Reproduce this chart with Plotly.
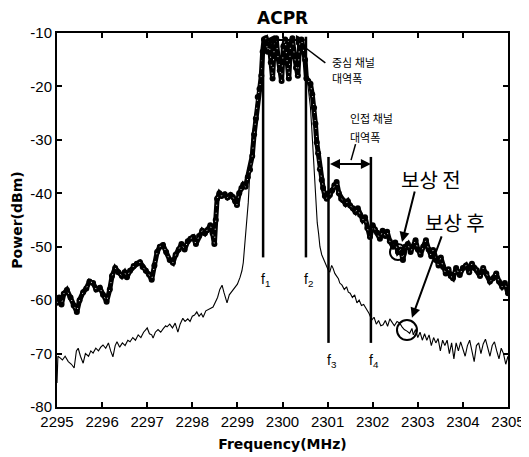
"""
ACPR spectrum: output power before and after compensation, with the
centre-channel (f1-f2) and adjacent-channel (f3-f4) bandwidth markers.
"""
import plotly.graph_objects as go

# before compensation (thick trace)
FREQ_BEFORE = [
    2295.00, 2295.05, 2295.10, 2295.15, 2295.22, 2295.30, 2295.37, 2295.44, 2295.50, 2295.58,
    2295.65, 2295.72, 2295.80, 2295.87, 2295.95, 2296.02, 2296.10, 2296.17, 2296.22, 2296.29,
    2296.36, 2296.44, 2296.50, 2296.55, 2296.62, 2296.70, 2296.77, 2296.84, 2296.90, 2296.97,
    2297.04, 2297.10, 2297.16, 2297.22, 2297.28, 2297.35, 2297.42, 2297.50, 2297.57, 2297.63,
    2297.70, 2297.76, 2297.83, 2297.90, 2297.96, 2298.02, 2298.08, 2298.15, 2298.22, 2298.28,
    2298.33, 2298.40, 2298.45, 2298.49, 2298.52, 2298.55, 2298.60, 2298.65, 2298.72, 2298.78,
    2298.85, 2298.90, 2298.95, 2298.99, 2299.04, 2299.09, 2299.13, 2299.18, 2299.23, 2299.28,
    2299.33, 2299.37, 2299.41, 2299.45, 2299.49, 2299.53, 2299.56, 2299.59, 2299.63, 2299.67,
    2299.70, 2299.74, 2299.78, 2299.82, 2299.86, 2299.90, 2299.94, 2299.98, 2300.02, 2300.06,
    2300.10, 2300.14, 2300.18, 2300.22, 2300.26, 2300.30, 2300.34, 2300.38, 2300.42, 2300.46,
    2300.50, 2300.53, 2300.57, 2300.62, 2300.66, 2300.70, 2300.73, 2300.76, 2300.79, 2300.83,
    2300.87, 2300.90, 2300.94, 2300.98, 2301.02, 2301.05, 2301.10, 2301.15, 2301.20, 2301.25,
    2301.30, 2301.34, 2301.40, 2301.45, 2301.50, 2301.56, 2301.62, 2301.67, 2301.72, 2301.78,
    2301.83, 2301.88, 2301.94, 2302.00, 2302.05, 2302.10, 2302.16, 2302.22, 2302.28, 2302.32,
    2302.38, 2302.45, 2302.50, 2302.56, 2302.62, 2302.67, 2302.72, 2302.78, 2302.84, 2302.89,
    2302.95, 2303.00, 2303.06, 2303.12, 2303.18, 2303.24, 2303.30, 2303.34, 2303.40, 2303.46,
    2303.51, 2303.56, 2303.62, 2303.68, 2303.73, 2303.78, 2303.85, 2303.93, 2304.00, 2304.07,
    2304.14, 2304.20, 2304.26, 2304.31, 2304.38, 2304.45, 2304.52, 2304.60, 2304.67, 2304.74,
    2304.80, 2304.87, 2304.93, 2305.00,
]
POWER_BEFORE = [
    -60.5, -59.5, -60.8, -58.8, -58.1, -59.5, -61.0, -62.2, -60.0, -58.5,
    -57.8, -56.5, -56.8, -58.0, -57.7, -59.0, -60.3, -58.0, -55.5, -54.0,
    -54.8, -55.5, -54.8, -55.7, -54.5, -53.6, -53.2, -52.9, -53.8, -54.5,
    -55.2, -56.2, -53.5, -51.0, -50.0, -49.7, -51.0, -52.5, -53.0, -51.5,
    -50.5, -49.5, -50.5, -49.0, -48.5, -48.2, -49.5, -48.0, -47.0, -47.5,
    -46.9, -46.0, -47.5, -49.5, -45.0, -41.0, -40.0, -40.5, -40.2, -40.8,
    -40.3, -40.7, -41.5, -42.2, -40.0, -39.0, -38.4, -38.8, -37.0, -35.6,
    -33.0, -29.0, -26.0, -22.0, -20.5, -18.0, -13.5, -11.2, -11.0, -13.5,
    -11.5, -15.5, -18.5, -12.0, -11.0, -14.5, -17.0, -19.0, -12.5, -11.2,
    -15.0, -18.5, -12.0, -11.0, -14.0, -16.5, -18.0, -12.0, -11.2, -13.0,
    -15.0, -18.5, -19.0, -19.5, -21.5, -24.0, -27.0, -30.5, -32.5, -35.5,
    -37.5, -39.0, -40.5, -41.0, -40.0, -40.3, -39.5, -38.5, -37.9, -40.0,
    -41.0, -41.3, -42.0, -41.5, -42.3, -42.8, -43.5, -42.8, -44.0, -45.0,
    -44.5, -46.5, -48.2, -46.0, -46.8, -47.4, -48.5, -47.0, -48.0, -47.2,
    -49.0, -50.0, -49.2, -51.0, -50.5, -52.5, -50.0, -49.5, -51.0, -50.0,
    -48.8, -50.5, -51.5, -50.0, -48.8, -50.5, -51.8, -50.6, -52.5, -53.5,
    -52.0, -53.8, -55.0, -54.2, -55.5, -55.9, -54.0, -55.3, -54.0, -53.5,
    -54.8, -53.2, -54.0, -54.4, -55.5, -54.0, -55.0, -56.5, -55.9, -55.0,
    -56.5, -57.5, -56.8, -58.7,
]

# after compensation (thin trace)
FREQ_AFTER = [
    2295.00, 2295.02, 2295.07, 2295.12, 2295.18, 2295.25, 2295.32, 2295.38, 2295.43, 2295.47,
    2295.52, 2295.58, 2295.63, 2295.70, 2295.75, 2295.80, 2295.86, 2295.92, 2295.97, 2296.02,
    2296.08, 2296.14, 2296.19, 2296.24, 2296.29, 2296.33, 2296.39, 2296.45, 2296.51, 2296.57,
    2296.62, 2296.68, 2296.74, 2296.80, 2296.86, 2296.92, 2296.97, 2297.00, 2297.05, 2297.10,
    2297.13, 2297.18, 2297.24, 2297.30, 2297.36, 2297.41, 2297.44, 2297.50, 2297.56, 2297.62,
    2297.68, 2297.73, 2297.79, 2297.84, 2297.90, 2297.95, 2298.00, 2298.05, 2298.10, 2298.15,
    2298.20, 2298.24, 2298.30, 2298.36, 2298.41, 2298.46, 2298.51, 2298.56, 2298.61, 2298.66,
    2298.70, 2298.74, 2298.77, 2298.82, 2298.86, 2298.90, 2298.95, 2299.00, 2299.06, 2299.10,
    2299.13, 2299.17, 2299.20, 2299.24, 2299.28, 2299.32, 2299.36, 2299.40, 2299.45, 2299.50,
    2299.54, 2299.58, 2299.62, 2299.66, 2299.70, 2299.74, 2299.78, 2299.82, 2299.86, 2299.90,
    2299.94, 2299.98, 2300.02, 2300.06, 2300.10, 2300.14, 2300.18, 2300.22, 2300.26, 2300.30,
    2300.34, 2300.38, 2300.42, 2300.46, 2300.50, 2300.54, 2300.58, 2300.62, 2300.65, 2300.68,
    2300.71, 2300.74, 2300.77, 2300.80, 2300.83, 2300.87, 2300.92, 2300.97, 2301.02, 2301.05,
    2301.09, 2301.12, 2301.16, 2301.20, 2301.24, 2301.27, 2301.32, 2301.37, 2301.42, 2301.46,
    2301.50, 2301.55, 2301.60, 2301.65, 2301.70, 2301.75, 2301.80, 2301.87, 2301.92, 2301.98,
    2302.03, 2302.08, 2302.13, 2302.18, 2302.23, 2302.28, 2302.33, 2302.38, 2302.43, 2302.48,
    2302.54, 2302.60, 2302.65, 2302.70, 2302.76, 2302.82, 2302.87, 2302.90, 2302.95, 2303.00,
    2303.05, 2303.10, 2303.15, 2303.20, 2303.25, 2303.30, 2303.35, 2303.40, 2303.45, 2303.50,
    2303.55, 2303.60, 2303.65, 2303.70, 2303.75, 2303.80, 2303.85, 2303.90, 2303.95, 2304.00,
    2304.05, 2304.10, 2304.15, 2304.20, 2304.25, 2304.30, 2304.35, 2304.40, 2304.45, 2304.50,
    2304.55, 2304.60, 2304.65, 2304.70, 2304.75, 2304.80, 2304.85, 2304.90, 2304.95, 2305.00,
]
POWER_AFTER = [
    -75.5, -70.5, -70.8, -71.2, -70.5, -71.5, -72.0, -72.7, -69.5, -69.0,
    -70.5, -71.8, -70.0, -70.5, -69.5, -69.9, -69.0, -69.5, -68.8, -68.4,
    -69.0, -68.0, -69.5, -70.6, -68.5, -67.8, -68.8, -68.0, -68.5, -67.5,
    -67.8, -67.0, -67.5, -66.5, -67.0, -66.0, -65.5, -65.2, -66.3, -66.5,
    -67.1, -66.0, -65.5, -66.0, -65.3, -64.8, -65.0, -64.5, -65.2, -64.3,
    -66.0, -64.5, -63.4, -64.0, -63.5, -64.0, -63.0, -62.8, -62.2, -63.0,
    -62.5, -63.2, -62.0, -61.8, -61.5, -61.3, -60.5, -59.5, -58.0, -57.2,
    -58.5, -60.0, -60.5, -59.0, -58.5, -58.1, -57.5, -57.0, -55.7, -54.5,
    -53.0, -49.3, -45.0, -41.8, -35.6, -30.0, -27.5, -25.0, -21.5, -20.0,
    -17.0, -12.5, -11.0, -13.0, -11.2, -15.0, -17.5, -11.5, -11.2, -14.0,
    -16.5, -18.5, -12.0, -11.0, -14.5, -17.5, -11.5, -11.2, -13.5, -16.0,
    -17.0, -11.5, -11.0, -12.5, -14.0, -18.0, -20.5, -24.0, -28.0, -33.0,
    -38.0, -42.0, -45.5, -47.5, -50.0, -51.5, -52.5, -53.8, -54.5, -54.7,
    -53.5, -54.0, -55.0, -55.5, -56.0, -56.8, -57.2, -58.0, -57.5, -58.5,
    -58.7, -59.5, -59.0, -60.5, -60.0, -61.0, -60.8, -61.8, -62.5, -63.7,
    -63.2, -64.5, -63.8, -64.8, -64.6, -63.8, -64.9, -63.5, -64.2, -64.8,
    -64.0, -64.3, -65.0, -65.5, -65.8, -66.2, -65.3, -66.5, -65.5, -67.0,
    -66.0, -67.5, -66.3, -67.5, -66.5, -68.5, -67.0, -68.0, -67.2, -69.5,
    -67.5, -68.5, -67.5, -70.0, -68.0, -71.0, -68.0, -69.5, -67.8, -69.0,
    -70.5, -68.5, -67.5, -69.5, -71.5, -68.5, -68.0, -70.0, -68.2, -67.3,
    -69.0, -70.5, -68.5, -67.8, -69.5, -71.0, -69.0, -70.0, -72.0, -70.5,
]

# channel edge markers (MHz)
F_LABELS = ["f<sub>1</sub>", "f<sub>2</sub>", "f<sub>3</sub>", "f<sub>4</sub>"]
F_EDGES = [2299.57, 2300.52, 2301.02, 2301.96]

X_TICKS = list(range(2295, 2306))
Y_TICKS = list(range(-80, -9, 10))

KR_FONT = "Noto Sans CJK KR"
NARROW = "Liberation Sans Narrow, Arial Narrow, Liberation Sans, sans-serif"

# the page body adds an 8px margin, so the figure is 8px smaller than the window
PAGE_OFFSET = 8


def main():
    fig = go.Figure()

    fig.add_trace(go.Scatter(
        x=FREQ_AFTER, y=POWER_AFTER, mode="lines", name="보상 후",
        line=dict(color="black", width=1.1), showlegend=False,
    ))
    fig.add_trace(go.Scatter(
        x=FREQ_BEFORE, y=POWER_BEFORE, mode="lines+markers", name="보상 전",
        line=dict(color="black", width=5),
        marker=dict(color="black", size=6),
        showlegend=False,
    ))
    fig.add_trace(go.Scatter(
        x=FREQ_BEFORE, y=POWER_BEFORE, mode="lines", name="보상 전 (dotted)",
        line=dict(color="white", width=0.9, dash="1px,7px"), showlegend=False,
        hoverinfo="skip",
    ))

    # channel edge lines f1..f4
    spans = [(-10.7, -52.0), (-10.7, -52.0), (-33.2, -68.0), (-33.2, -68.0)]
    label_y = [-54.2, -54.2, -69.4, -69.4]
    for f, (y0, y1), lab, ly in zip(F_EDGES, spans, F_LABELS, label_y):
        fig.add_shape(type="line", x0=f, x1=f, y0=y0, y1=y1,
                      line=dict(color="black", width=2.5))
        fig.add_annotation(x=f, y=ly, text=lab, showarrow=False, xanchor="left",
                           xshift=-4, yanchor="top",
                           font=dict(family="Liberation Sans, sans-serif", size=14,
                                     color="black"))

    # double-headed bandwidth arrows
    for (fa, fb, yy) in [(F_EDGES[0], F_EDGES[1], -11.3), (F_EDGES[2], F_EDGES[3], -34.5)]:
        fig.add_annotation(x=fb, y=yy, ax=fa, ay=yy, axref="x", ayref="y",
                           text="", showarrow=True, arrowhead=2, arrowside="end+start",
                           arrowsize=1, arrowwidth=2, arrowcolor="black")

    # leader lines for bandwidth labels
    fig.add_shape(type="line", x0=2300.53, y0=-12.9, x1=2300.95, y1=-15.6,
                  line=dict(color="black", width=1.5))
    fig.add_shape(type="line", x0=2301.62, y0=-30.8, x1=2301.52, y1=-33.8,
                  line=dict(color="black", width=1.5))

    small = dict(family=KR_FONT, size=11, color="black")
    fig.add_annotation(x=2301.05, y=-15.4, text="중심 채널", showarrow=False,
                       xanchor="left", font=small)
    fig.add_annotation(x=2301.05, y=-18.4, text="대역폭", showarrow=False,
                       xanchor="left", font=small)
    fig.add_annotation(x=2301.45, y=-25.9, text="인접 채널", showarrow=False,
                       xanchor="left", font=small)
    fig.add_annotation(x=2301.45, y=-29.5, text="대역폭", showarrow=False,
                       xanchor="left", font=small)

    big = dict(family=KR_FONT, size=20, color="black")
    fig.add_annotation(x=2303.29, y=-37.5, text="보상 전", showarrow=False, font=big)
    fig.add_annotation(x=2303.82, y=-45.4, text="보상 후", showarrow=False, font=big)

    fig.add_annotation(x=2302.65, y=-49.1, ax=2302.94, ay=-39.4, axref="x", ayref="y",
                       text="", showarrow=True, arrowhead=2, arrowsize=1,
                       arrowwidth=2, arrowcolor="black")
    fig.add_annotation(x=2302.87, y=-63.3, ax=2303.54, ay=-47.8, axref="x", ayref="y",
                       text="", showarrow=True, arrowhead=2, arrowsize=1,
                       arrowwidth=2, arrowcolor="black")

    for cx, cy, r in [(2302.56, -51.0, 8), (2302.76, -65.6, 10)]:
        fig.add_shape(type="circle", xref="x", yref="y", xsizemode="pixel",
                      ysizemode="pixel", xanchor=cx, yanchor=cy,
                      x0=-r, x1=r, y0=-r, y1=r,
                      line=dict(color="black", width=2))

    # chart title, placed just above the plot frame
    fig.add_annotation(x=0.5, y=1.0, xref="paper", yref="paper", text="<b>ACPR</b>",
                       showarrow=False, xanchor="center", yanchor="bottom", yshift=3,
                       font=dict(family="DejaVu Sans", size=17, color="black"))

    fig.update_layout(
        width=529 - PAGE_OFFSET, height=457 - PAGE_OFFSET,
        margin=dict(l=57 - PAGE_OFFSET, r=21, t=33 - PAGE_OFFSET, b=50),
        paper_bgcolor="white", plot_bgcolor="white",
        showlegend=False,
    )
    axis_common = dict(
        showgrid=False, zeroline=False, showline=True, mirror="ticks",
        linecolor="black", linewidth=2, ticks="inside", ticklen=5,
        tickwidth=1.5, tickcolor="black", automargin=False,
        tickfont=dict(family=NARROW, size=15, color="black"),
    )
    fig.update_xaxes(
        range=[2295, 2305], tickvals=X_TICKS, ticktext=[str(v) for v in X_TICKS],
        title=dict(text="<b>Frequency(MHz)</b>", standoff=10,
                   font=dict(family="DejaVu Sans", size=14, color="black")),
        **axis_common,
    )
    fig.update_yaxes(
        range=[-80, -10], tickvals=Y_TICKS, ticktext=[str(v) for v in Y_TICKS],
        title=dict(text="<b>Power(dBm)</b>", standoff=4,
                   font=dict(family="DejaVu Sans", size=14, color="black")),
        **axis_common,
    )

    fig.write_html("out.html")


if __name__ == "__main__":
    main()
